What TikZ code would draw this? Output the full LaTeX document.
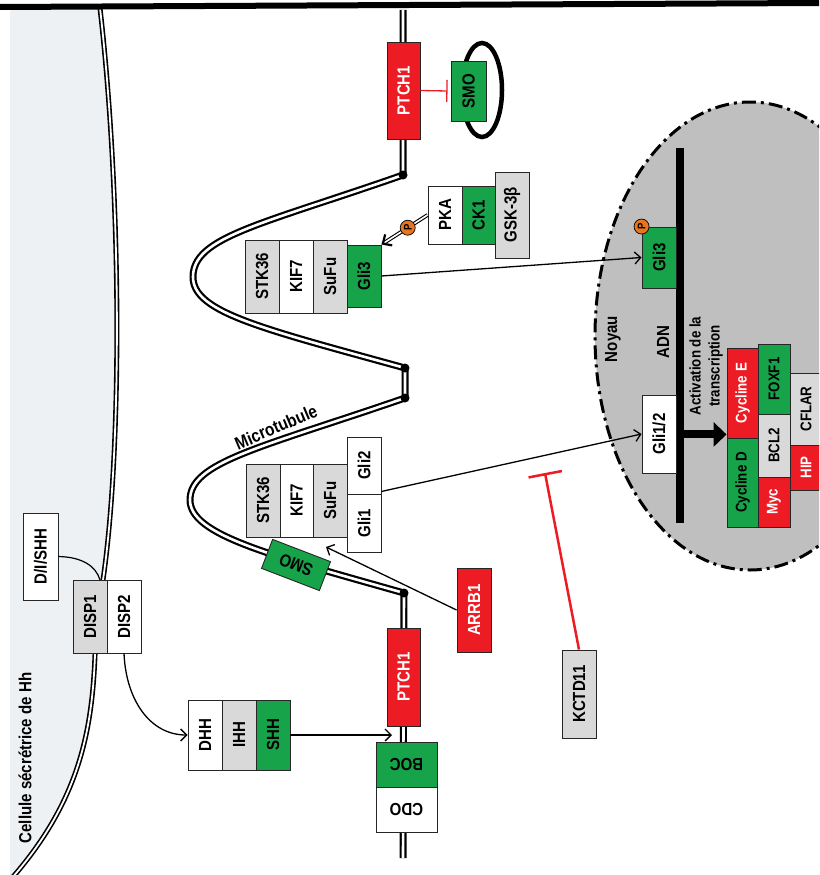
\documentclass[tikz,border=0pt]{standalone}
\usepackage{fontspec}
\setmainfont{Liberation Sans}[FakeStretch=0.86]
\usepackage{graphicx}
\usetikzlibrary{arrows.meta,calc}
\definecolor{cred}{HTML}{ED1C24}
\definecolor{cgreen}{HTML}{17A34A}
\definecolor{cgray}{HTML}{D9D9D9}
\definecolor{cnuc}{HTML}{BFBFBF}
\definecolor{ccell}{HTML}{EEF1F4}
\definecolor{corange}{HTML}{E8741E}
\newcommand\vt[1]{\rotatebox{90}{#1}}
\begin{document}
\begin{tikzpicture}[x=1pt,y=-1pt,
  bx/.style={draw=black!85, line width=0.9pt, inner sep=0pt, font=\bfseries\fontsize{17.5}{18}\selectfont},
  gbx/.style={bx, font=\bfseries\fontsize{15.5}{17}\selectfont},
  rd/.style={fill=cred, text=white},
  gr/.style={fill=cgreen},
  gy/.style={fill=cgray},
  wh/.style={fill=white},
  arr/.style={line width=1.3pt, -{Straight Barb[length=6pt,width=12pt,line width=1.3pt]}},
  inh/.style={cred, line width=2.5pt, -{Bar[width=34pt,line width=2.5pt]}},
  tube/.style={line width=7pt, line join=round, postaction={draw=white, line width=2.6pt}},
  memb/.style={line width=5pt, postaction={draw=white, line width=1.8pt}},
  lbl/.style={font=\bfseries\fontsize{17.5}{18}\selectfont, inner sep=0pt},
  pc/.style={circle, fill=corange, draw=black, line width=0.7pt, inner sep=0pt, minimum size=15pt, font=\bfseries\fontsize{11}{11}\selectfont}
]
\clip (0,0) rectangle (819,875);
\fill[white] (0,0) rectangle (819,875);
% secreting cell
\fill[ccell] (10,8) -- (100,8) .. controls (122,200) and (122,450) .. (103,580) -- (95,655) .. controls (92,730) and (80,800) .. (12,878) -- (10,878) -- cycle;
\draw[memb] (100,8) .. controls (122,200) and (122,450) .. (103,580) -- (95,655) .. controls (92,730) and (80,800) .. (12,878);
% top border
\draw[line width=6pt] (0,7) -- (819,3);
% nucleus
\path[fill=cnuc, draw=black, line width=3pt, dash pattern=on 14pt off 5pt on 3pt off 5pt] (750,336) ellipse [x radius=155, y radius=234];
\node[fill=black, inner sep=0pt, minimum width=8pt, minimum height=375pt] (dna) at (680,335.5) {};
% cilium / microtubule
\draw[tube] (403,10) -- (403,175) .. controls (260,225) and (193,237) .. (193,277) .. controls (193,312) and (260,328) .. (405,368) -- (405,398) .. controls (260,448) and (190,462) .. (190,500) .. controls (190,535) and (270,555) .. (404,593) -- (403,858);
\foreach \p in {(403,175),(405,368),(405,398),(404,593)} \fill \p circle (4.5);
% SMO loop
\draw[line width=4.5pt] (482,90) ellipse [x radius=20, y radius=47];
% boxes top
\node[bx,rd,minimum width=33pt,minimum height=97pt] (ptchA) at (403.5,90.5) {\vt{PTCH1}};
\node[bx,gr,minimum width=35pt,minimum height=60pt] (smoA) at (468.5,91) {\vt{SMO}};
\node[bx,wh,minimum width=34pt,minimum height=58pt] (pka) at (445,215) {\vt{PKA}};
\node[bx,gr,minimum width=33pt,minimum height=58pt] (ck1) at (478.5,215) {\vt{CK1}};
\node[bx,gy,minimum width=34pt,minimum height=86pt] (gsk) at (512,215) {\vt{GSK-3β}};
% upper complex
\node[bx,gy,minimum width=34pt,minimum height=73pt] (stkA) at (262,276.5) {\vt{STK36}};
\node[bx,wh,minimum width=34pt,minimum height=73pt] (kifA) at (296,276.5) {\vt{KIF7}};
\node[bx,gy,minimum width=34pt,minimum height=73pt] (sufA) at (330,276.5) {\vt{SuFu}};
\node[bx,gr,minimum width=34pt,minimum height=62pt] (gliA) at (364,276) {\vt{Gli3}};
% lower complex
\node[bx,gy,minimum width=34pt,minimum height=73pt] (stkB) at (263,500.5) {\vt{STK36}};
\node[bx,wh,minimum width=33pt,minimum height=73pt] (kifB) at (296.5,500.5) {\vt{KIF7}};
\node[bx,gy,minimum width=34pt,minimum height=73pt] (sufB) at (330,500.5) {\vt{SuFu}};
\node[bx,wh,minimum width=34pt,minimum height=57pt] (gliB2) at (364,465.5) {\vt{Gli2}};
\node[bx,wh,minimum width=34pt,minimum height=58pt] (gliB1) at (364,523) {\vt{Gli1}};
\node[lbl, rotate=23, font=\bfseries\fontsize{18}{18}\selectfont] (mt) at (276,427) {Microtubule};
\node[bx,gr,minimum width=62pt,minimum height=31pt,rotate=159] (smoB) at (296,565) {SMO};
% bottom membrane proteins
\node[bx,rd,minimum width=33pt,minimum height=98pt] (ptchB) at (403.5,677) {\vt{PTCH1}};
\node[bx,gr,minimum width=61pt,minimum height=45pt] (boc) at (406.5,764.5) {\rotatebox{180}{BOC}};
\node[bx,wh,minimum width=61pt,minimum height=45pt] (cdo) at (406.5,809.5) {\rotatebox{180}{CDO}};
\node[bx,rd,minimum width=34pt,minimum height=84pt] (arrb) at (474,610) {\vt{ARRB1}};
\node[bx,gy,minimum width=34pt,minimum height=88pt] (kctd) at (579,694) {\vt{KCTD11}};
% secreting side
\node[bx,wh,minimum width=35pt,minimum height=87pt] (dish) at (40.5,556.5) {\vt{D/I/SHH}};
\node[bx,gy,minimum width=34pt,minimum height=73pt] (disp1) at (90,616.5) {\vt{DISP1}};
\node[bx,wh,minimum width=34pt,minimum height=73pt] (disp2) at (124,616.5) {\vt{DISP2}};
\node[bx,wh,minimum width=34pt,minimum height=70pt] (dhh) at (205,735) {\vt{DHH}};
\node[bx,gy,minimum width=34pt,minimum height=70pt] (ihh) at (239,735) {\vt{IHH}};
\node[bx,gr,minimum width=34pt,minimum height=70pt] (shh) at (273,735) {\vt{SHH}};
\node[lbl, rotate=90] (cell) at (25,758) {Cellule sécrétrice de Hh};
% nucleus content
\node[bx,gr,minimum width=34pt,minimum height=61pt] (gli3n) at (659,257.5) {\vt{Gli3}};
\node[bx,wh,minimum width=34pt,minimum height=78pt] (gli12) at (659,434) {\vt{Gli1/2}};
\node[lbl, rotate=90] (noyau) at (613,339) {Noyau};
\node[lbl, rotate=90] (adn) at (663,342) {ADN};
\node[lbl, rotate=90, align=center, font=\bfseries\fontsize{15.5}{19}\selectfont] (act) at (706,366) {Activation de la\\transcription};
\node[gbx,rd,minimum width=31pt,minimum height=90pt] (cycE) at (742.5,393) {\vt{Cycline E}};
\node[gbx,gr,minimum width=31pt,minimum height=89pt] (cycD) at (742.5,482.5) {\vt{Cycline D}};
\node[gbx,gr,minimum width=32pt,minimum height=70pt] (foxf) at (774,379) {\vt{FOXF1}};
\node[gbx,gy,minimum width=32pt,minimum height=63pt] (bcl) at (774,445.5) {\vt{BCL2}};
\node[gbx,rd,minimum width=32pt,minimum height=50pt] (myc) at (774,502) {\vt{Myc}};
\node[gbx,gy,minimum width=32pt,minimum height=72pt] (cflar) at (806,409) {\vt{CFLAR}};
\node[gbx,rd,minimum width=32pt,minimum height=45pt] (hip) at (806,467.5) {\vt{HIP}};
% connectors
\coordinate (aS) at ($(dna.east |- cycE.south)+(0,-4)$);
\coordinate (aE) at ($(cycE.south west)+(0,-4)$);
\draw[line width=8pt, -{Triangle[length=13pt,width=24pt]}] (aS) -- (aE);
\draw[arr] (gliA.east) -- (gli3n.west);
\draw[arr] ([yshift=3pt]gliB2.south east) -- (gli12.west);
\coordinate (arrT) at (326,547);
\draw[arr] (arrb.west) -- (arrT);
\draw[arr] (disp2.south) .. controls (126,700) and (150,735) .. (dhh.west);
\coordinate (shhT) at (392,735);
\draw[arr] (shh.east) -- (shhT);
\coordinate (dT) at (100,580);
\draw[line width=1.2pt] (dish.east) .. controls (82,557) and (96,566) .. (dT);
\draw[cred, line width=1.3pt, -{Bar[width=22pt,line width=1.3pt]}] (ptchA.east) -- ([xshift=-3pt]smoA.west);
\coordinate (kT) at (545,473);
\draw[inh] (kctd.north) -- (kT);
\draw[double=white, double distance=1.6pt, line width=1.1pt, -{Straight Barb[length=7pt,width=13pt,line width=2.2pt]}] (pka.west) -- (gliA.north east);
\node[pc] (p1) at ($(pka.west)!0.43!(gliA.north east)$) {\vt{P}};
\node[pc] (p2) at (gli3n.north west) {\vt{P}};
\end{tikzpicture}
\end{document}
